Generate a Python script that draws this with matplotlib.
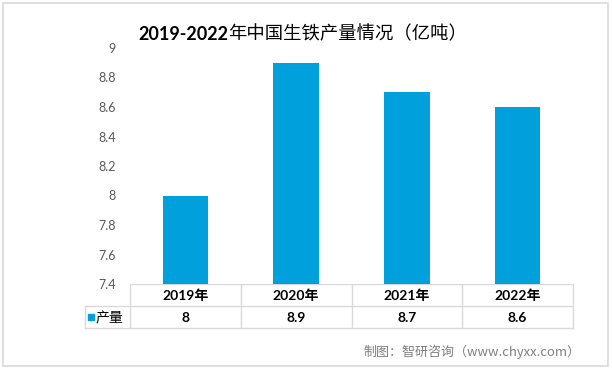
import numpy as np
import matplotlib.pyplot as plt
from matplotlib.patches import Rectangle

years = ["2019年", "2020年", "2021年", "2022年"]
output = [8, 8.9, 8.7, 8.6]
series_name = "产量"
yticks = [7.4, 7.6, 7.8, 8, 8.2, 8.4, 8.6, 8.8, 9]

W, H = 612, 369
bar_color = "#00A0DC"
grid_color = "#D9D9D9"
cjk = ["Noto Sans CJK SC", "DejaVu Sans"]
latin = ["Lato", "Noto Sans CJK SC"]

fig = plt.figure(figsize=(W / 100, H / 100), dpi=100)

# pixel helpers
def fx(px):
    return px / W

def fy(py):
    return 1 - py / H

ax_l, ax_r, ax_t, ax_b = 130, 573, 48, 284
ax = fig.add_axes([fx(ax_l), fy(ax_b), fx(ax_r - ax_l), fy(ax_t) - fy(ax_b)])
x = np.arange(len(years))
ax.bar(x, output, width=0.41, color=bar_color, zorder=2)
ax.set_xlim(-0.5, len(years) - 0.5)
ax.set_ylim(7.4, 9)
ax.set_yticks(yticks)
ax.set_yticklabels([f"{v:g}" for v in yticks], family=latin, fontsize=9, color="#595959")
ax.set_xticks([])
ax.tick_params(axis="y", length=0, pad=10)
for s in ax.spines.values():
    s.set_visible(False)

# overlay in pixel coords for frame, table and texts
ov = fig.add_axes([0, 0, 1, 1], zorder=-1)
ov.set_xlim(0, W)
ov.set_ylim(H, 0)
ov.axis("off")
ov.add_patch(Rectangle((3, 3), 605, 363, fill=False, edgecolor=grid_color, lw=1.2))

# data table below the axes
row1, row2, row3 = 284, 306, 328
lab_l = 85
col_edges = np.linspace(ax_l, ax_r, len(years) + 1)
lc = dict(color=grid_color, lw=1)
ov.plot([ax_l, ax_r], [row1, row1], **lc)
ov.plot([lab_l, ax_r], [row2, row2], **lc)
ov.plot([lab_l, ax_r], [row3, row3], **lc)
ov.plot([lab_l, lab_l], [row2, row3], **lc)
for e in col_edges:
    ov.plot([e, e], [row1, row3], **lc)
for i, (yr, v) in enumerate(zip(years, output)):
    cx = (col_edges[i] + col_edges[i + 1]) / 2
    ov.text(cx, (row1 + row2) / 2 + 1, yr, ha="center", va="center",
            family=latin, fontweight="bold", fontsize=10)
    ov.text(cx, (row2 + row3) / 2 + 1, f"{v:g}", ha="center", va="center",
            family=latin, fontweight="bold", fontsize=10)
ov.add_patch(Rectangle((88, 314), 6, 6, color=bar_color))
ov.text(96, (row2 + row3) / 2 + 1, series_name, ha="left", va="center",
        family=cjk, fontsize=10)

# title
fig.text(fx(228), fy(34), "2019-2022", ha="right", va="center",
         family=latin, fontweight="bold", fontsize=13)
fig.text(fx(228), fy(34), "年中国生铁产量情况（亿吨）", ha="left", va="center",
         family=cjk, fontsize=13.2)

# source
fig.text(fx(580), fy(352), "制图：智研咨询（www.chyxx.com）", ha="right", va="center",
         family=cjk, fontsize=9.4, color="#7F7F7F")

fig.savefig("out.png", dpi=100)
